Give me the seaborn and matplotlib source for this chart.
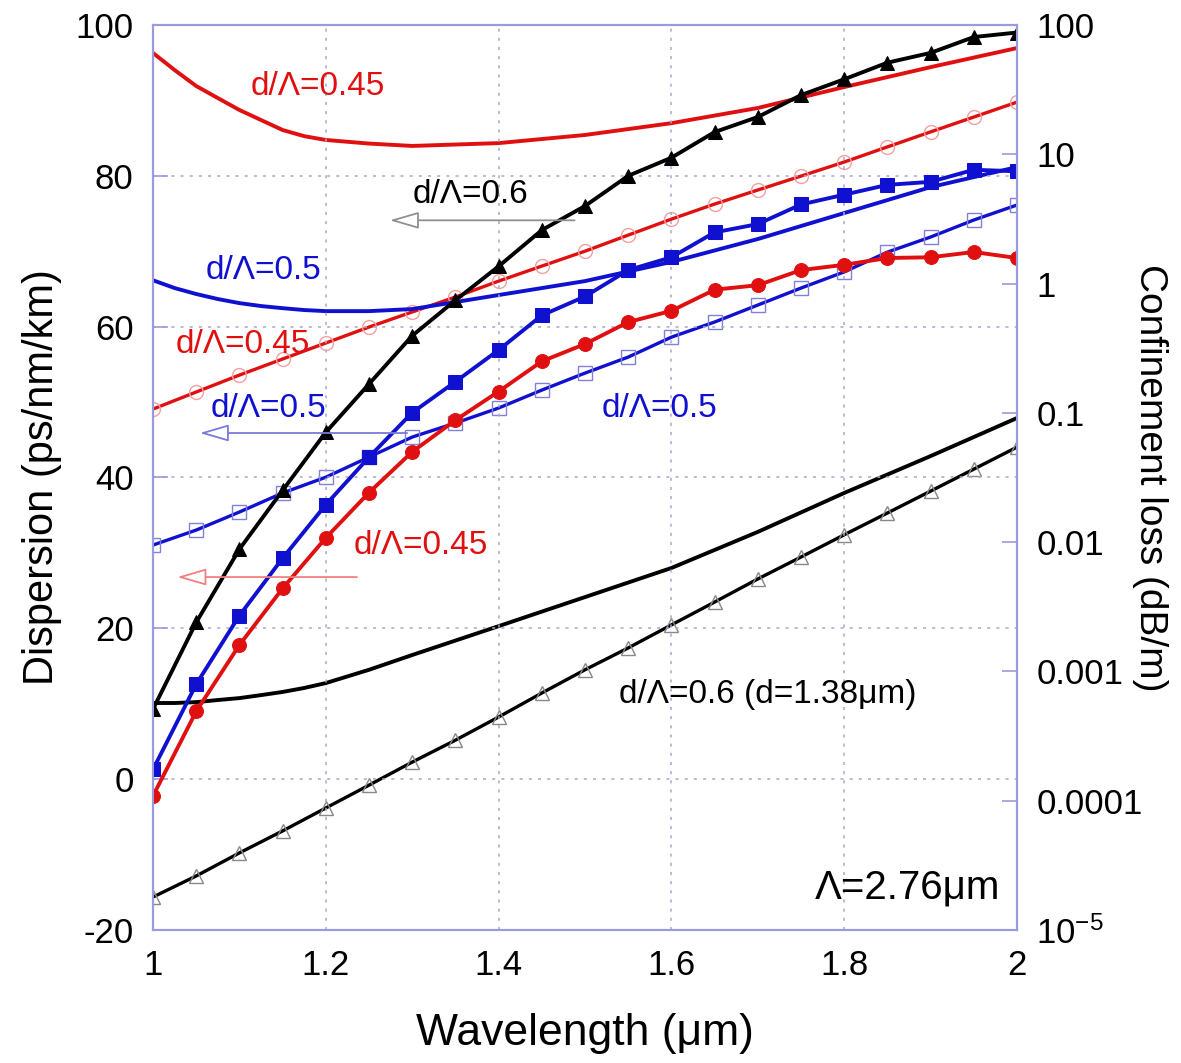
import matplotlib
matplotlib.use("Agg")
import matplotlib.pyplot as plt
import seaborn as sns
import pandas as pd
from matplotlib.ticker import FixedLocator, FixedFormatter, NullLocator

# ---------------- data ----------------
wavelength = [1.00, 1.05, 1.10, 1.15, 1.20, 1.25, 1.30, 1.35, 1.40, 1.45, 1.50,
              1.55, 1.60, 1.65, 1.70, 1.75, 1.80, 1.85, 1.90, 1.95, 2.00]

# dispersion (left axis), filled markers
disp_d060 = [9.3, 20.8, 30.5, 38.3, 46.0, 52.4, 58.8, 63.5, 68.0, 72.8, 76.0,
             80.0, 82.4, 85.8, 87.8, 90.7, 92.8, 95.0, 96.3, 98.4, 99.0]
disp_d050 = [1.3, 12.6, 21.7, 29.3, 36.4, 42.7, 48.6, 52.7, 56.9, 61.5, 64.0,
             67.5, 69.2, 72.5, 73.6, 76.2, 77.5, 78.8, 79.2, 80.8, 80.6]
disp_d045 = [-2.2, 9.0, 17.8, 25.3, 32.0, 38.0, 43.4, 47.6, 51.4, 55.4, 57.7,
             60.6, 62.1, 64.9, 65.5, 67.5, 68.2, 69.1, 69.2, 69.9, 69.1]

# confinement loss (right axis, dB/m), open markers
loss_open_d045 = [0.107, 0.145, 0.196, 0.261, 0.347, 0.461, 0.603, 0.787, 1.045, 1.365, 1.78,
                  2.37, 3.15, 4.12, 5.29, 6.78, 8.71, 11.4, 14.9, 19.4, 25.3]
loss_open_d050 = [0.0095, 0.0124, 0.0171, 0.0240, 0.0318, 0.0455, 0.0650, 0.0834, 0.109, 0.150, 0.203,
                  0.270, 0.385, 0.504, 0.682, 0.923, 1.23, 1.75, 2.29, 3.10, 4.05]
loss_open_d060 = [1.80e-5, 2.62e-5, 3.95e-5, 5.84e-5, 8.79e-5, 1.32e-4, 1.99e-4, 2.94e-4, 4.44e-4,
                  6.81e-4, 1.03e-3, 1.52e-3, 2.29e-3, 3.44e-3, 5.19e-3, 7.67e-3, 1.14e-2,
                  1.68e-2, 2.48e-2, 3.67e-2, 5.43e-2]

# confinement loss (right axis, dB/m), smooth curves without markers
smooth_wl = [1.000, 1.025, 1.050, 1.075, 1.100, 1.125, 1.150, 1.175, 1.200, 1.250,
             1.300, 1.400, 1.500, 1.600, 1.700, 1.800, 1.900, 2.000]
loss_smooth_d045 = [60.7, 44.8, 33.7, 27.2, 22.0, 18.4, 15.4, 13.8, 12.9, 12.1,
                    11.6, 12.2, 14.1, 17.4, 22.8, 33.1, 47.2, 66.3]
loss_smooth_d050 = [1.06, 0.923, 0.83, 0.759, 0.706, 0.670, 0.645, 0.624, 0.612, 0.612,
                    0.635, 0.815, 1.045, 1.47, 2.21, 3.51, 5.57, 7.96]
loss_smooth_d060 = [5.70e-4, 5.70e-4, 5.79e-4, 6.01e-4, 6.22e-4, 6.56e-4, 6.94e-4, 7.45e-4, 8.13e-4,
                    1.03e-3, 1.34e-3, 2.24e-3, 3.76e-3, 6.31e-3, 1.20e-2, 2.40e-2, 4.63e-2, 9.12e-2]

x_ticks = [1.0, 1.2, 1.4, 1.6, 1.8, 2.0]
x_ticklabels = ["1", "1.2", "1.4", "1.6", "1.8", "2"]
left_ticks = [-20, 0, 20, 40, 60, 80, 100]
right_ticks = [1e-5, 1e-4, 1e-3, 1e-2, 1e-1, 1, 10, 100]
right_ticklabels = [r"$\mathregular{10^{-5}}$", "0.0001", "0.001", "0.01", "0.1", "1", "10", "100"]

# ---------------- style ----------------
sns.set_theme(style="white")
plt.rcParams["font.family"] = ["Liberation Sans", "DejaVu Sans"]
plt.rcParams["mathtext.fontset"] = "custom"
plt.rcParams["mathtext.rm"] = "Liberation Sans"
plt.rcParams["axes.unicode_minus"] = False
plt.rcParams["axes.labelcolor"] = "black"
plt.rcParams["text.color"] = "black"

RED = "#e01010"
BLUE = "#1010d0"
BLACK = "#000000"
SPINE = "#9a9ae0"

fig = plt.figure(figsize=(11.81, 10.63), dpi=100)
ax = fig.add_axes([0.1296, 0.1251, 0.8611 - 0.1296, 0.9765 - 0.1251])
ax2 = ax.twinx()

# ---- right axis: confinement loss (open markers + smooth curves) ----
def open_line(y, edge, marker, color):
    sns.lineplot(x=wavelength, y=y, ax=ax2, color=color, linewidth=2.4,
                 marker=marker, markersize=10, markerfacecolor="none",
                 markeredgecolor=edge, markeredgewidth=1.0)

open_line(loss_open_d045, "#f2a0a0", "o", RED)
open_line(loss_open_d050, "#8080d8", "s", BLUE)
open_line(loss_open_d060, "#888888", "^", BLACK)

for y, c in [(loss_smooth_d045, RED), (loss_smooth_d050, BLUE), (loss_smooth_d060, BLACK)]:
    sns.lineplot(x=smooth_wl, y=y, ax=ax2, color=c, linewidth=2.8,
                 solid_joinstyle="round", solid_capstyle="round")

# ---- left axis: dispersion (filled markers) ----
ax.set_zorder(ax2.get_zorder() + 1)
ax.patch.set_visible(False)
sns.lineplot(x=wavelength, y=disp_d060, ax=ax, color=BLACK, linewidth=2.8,
             marker="^", markersize=10, markeredgecolor=BLACK)
sns.lineplot(x=wavelength, y=disp_d050, ax=ax, color=BLUE, linewidth=2.8,
             marker="s", markersize=10, markeredgecolor=BLUE)
sns.lineplot(x=wavelength, y=disp_d045, ax=ax, color=RED, linewidth=2.8,
             marker="o", markersize=10, markeredgecolor=RED)

# ---- axes formatting ----
ax.set_xlim(1.0, 2.0)
ax.set_ylim(-20, 100)
ax.xaxis.set_major_locator(FixedLocator(x_ticks))
ax.xaxis.set_major_formatter(FixedFormatter(x_ticklabels))
ax.yaxis.set_major_locator(FixedLocator(left_ticks))
ax.grid(True, linestyle=(0, (2, 4)), color="#a8a8cc", linewidth=1.1)

ax2.set_yscale("log")
ax2.set_ylim(1e-5, 100)
ax2.yaxis.set_major_locator(FixedLocator(right_ticks))
ax2.yaxis.set_major_formatter(FixedFormatter(right_ticklabels))
ax2.yaxis.set_minor_locator(NullLocator())
ax2.grid(False)

for a in (ax, ax2):
    for s in a.spines.values():
        s.set_color(SPINE)
        s.set_linewidth(1.5)
        s.set_visible(True)
    a.tick_params(direction="in", length=11, width=1.2, color=SPINE,
                  labelsize=25, labelcolor="black", pad=14)

ax.set_xlabel("Wavelength (\u03bcm)", fontsize=32, labelpad=22, color="black")
ax.set_ylabel("Dispersion (ps/nm/km)", fontsize=30, labelpad=10, color="black")
ax2.set_ylabel("Confinement loss (dB/m)", fontsize=28, rotation=270, labelpad=18, color="black")

# ---- annotations ----
fs = 24
ax.text(1.191, 91.8, "d/\u039b=0.45", color=RED, fontsize=fs, ha="center", va="center")
ax.text(1.367, 77.5, "d/\u039b=0.6", color=BLACK, fontsize=fs, ha="center", va="center")
ax.text(1.128, 67.5, "d/\u039b=0.5", color=BLUE, fontsize=fs, ha="center", va="center")
ax.text(1.104, 57.6, "d/\u039b=0.45", color=RED, fontsize=fs, ha="center", va="center")
ax.text(1.134, 49.2, "d/\u039b=0.5", color=BLUE, fontsize=fs, ha="center", va="center")
ax.text(1.586, 49.2, "d/\u039b=0.5", color=BLUE, fontsize=fs, ha="center", va="center")
ax.text(1.310, 31.0, "d/\u039b=0.45", color=RED, fontsize=fs, ha="center", va="center")
ax.text(1.711, 11.2, "d/\u039b=0.6 (d=1.38\u03bcm)", color=BLACK, fontsize=fs, ha="center", va="center")
ax.text(1.873, -14.4, "\u039b=2.76\u03bcm", color=BLACK, fontsize=29, ha="center", va="center")

arrow_style = "-|>,head_length=1.2,head_width=0.35"
for (x0, x1, yv, c) in [(1.488, 1.274, 74.1, "#909090"),
                        (1.294, 1.054, 45.9, "#7a7ad8"),
                        (1.236, 1.028, 26.8, "#f08080")]:
    ax.annotate("", xy=(x1, yv), xytext=(x0, yv),
                arrowprops=dict(arrowstyle=arrow_style, ec=c, fc="white",
                                lw=1.3, mutation_scale=15, shrinkA=0, shrinkB=0))

fig.savefig("out.png", dpi=100, facecolor="white")
